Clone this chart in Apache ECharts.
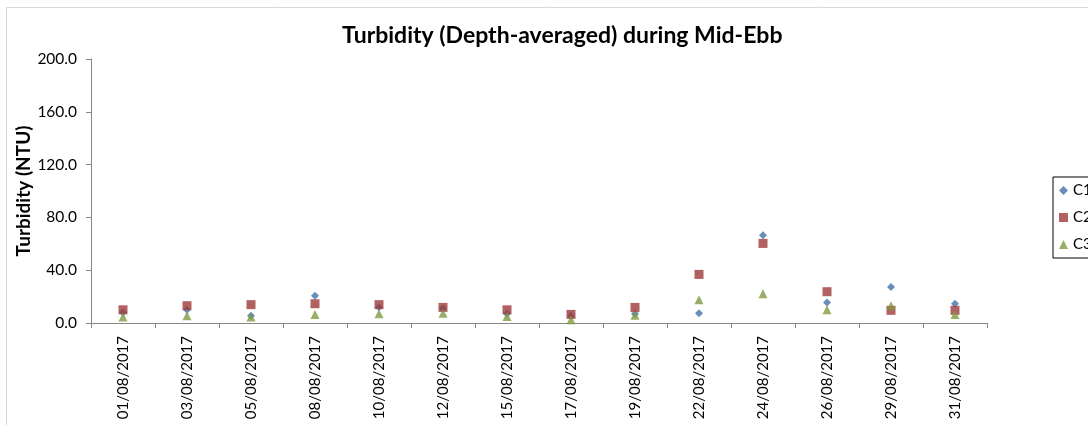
<!DOCTYPE html>
<html><head><meta charset="utf-8">
<script src="https://cdn.jsdelivr.net/npm/echarts@6/dist/echarts.min.js"></script>
<style>html,body{margin:0;padding:0;background:#fff}#c{width:1088px;height:425px}</style>
</head><body><div id="c"></div>
<script>
const categories = ['01/08/2017','03/08/2017','05/08/2017','08/08/2017','10/08/2017','12/08/2017','15/08/2017','17/08/2017','19/08/2017','22/08/2017','24/08/2017','26/08/2017','29/08/2017','31/08/2017'];
const c1 = [8.0, 10.0, 5.5, 20.7, 12.0, 11.0, 7.0, 5.5, 7.0, 7.3, 66.4, 15.6, 27.3, 14.6];
const c2 = [10.0, 13.1, 13.9, 14.6, 13.9, 11.8, 10.0, 6.5, 11.8, 36.8, 60.3, 23.7, 9.6, 9.6];
const c3 = [4.5, 5.5, 4.5, 6.5, 7.0, 7.3, 5.0, 2.5, 5.8, 17.7, 22.2, 10.0, 13.1, 6.5];
const yTicks = [0, 40, 80, 120, 160, 200];

const font = 'Lato, "Open Sans", sans-serif';
const chart = echarts.init(document.getElementById('c'));
chart.setOption({
  animation: false,
  backgroundColor: '#fff',
  graphic: [{type:'rect', shape:{x:6.5,y:7.5,width:1200,height:500}, style:{fill:'none', stroke:'#d9d9d9', lineWidth:1}, silent:true, z:-1}],
  title: {text:'Turbidity (Depth-averaged) during Mid-Ebb', left:337, top:19,
    textStyle:{fontFamily:font, fontSize:23, fontWeight:'bold', color:'#000'}},
  legend: {orient:'vertical', left:1053, top:177, itemGap:12, itemWidth:9, itemHeight:9,
    borderColor:'#000', borderWidth:1, padding:[6,20,6,6],
    textStyle:{fontFamily:font, fontSize:15, color:'#000'},
    data:[{name:'C1', icon:'diamond'},{name:'C2', icon:'rect'},{name:'C3', icon:'triangle'}]},
  grid: {left:91, right:101, top:59, bottom:102, outerBoundsMode:'none', containLabel:false},
  xAxis: {type:'category', data:categories, boundaryGap:true,
    axisLine:{lineStyle:{color:'#868686'}}, axisTick:{show:true, alignWithLabel:false, length:5, lineStyle:{color:'#868686'}},
    axisLabel:{rotate:90, interval:0, fontFamily:font, fontSize:15, color:'#000', margin:13}},
  yAxis: {type:'value', min:0, max:200, interval:40,
    name:'Turbidity (NTU)', nameLocation:'middle', nameGap:58, nameRotate:90, nameMoveOverlap:false,
    nameTextStyle:{fontFamily:font, fontSize:19, fontWeight:'bold', color:'#000'},
    axisLine:{show:true, lineStyle:{color:'#868686'}}, axisTick:{show:true, length:5, lineStyle:{color:'#868686'}},
    splitLine:{show:false},
    axisLabel:{fontFamily:font, fontSize:15.5, color:'#000', margin:14, formatter:v=>v.toFixed(1)}},
  series: [
    {name:'C1', type:'scatter', symbol:'diamond', symbolSize:8, data:c1, itemStyle:{color:'#4472a8'}, z:3},
    {name:'C2', type:'scatter', symbol:'rect', symbolSize:9, data:c2, itemStyle:{color:'#9e3a3a'}, z:4},
    {name:'C3', type:'scatter', symbol:'triangle', symbolSize:9, data:c3, itemStyle:{color:'#7f9a41'}, z:5}
  ]
});
</script></body></html>
